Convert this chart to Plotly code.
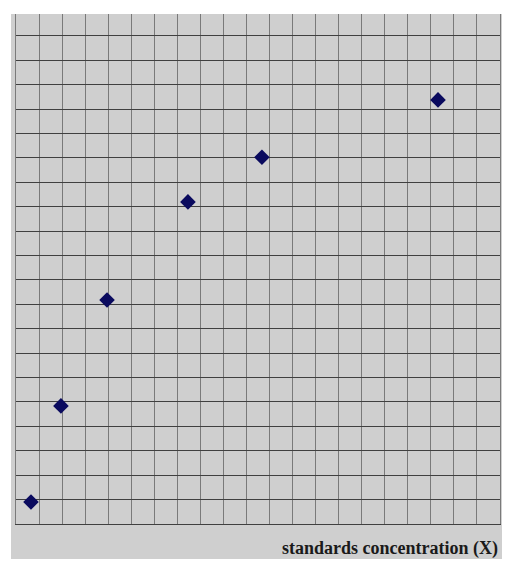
import plotly.graph_objects as go

# standards (grid units: 21 columns x ~21 rows)
concentration = [0.65, 1.95, 3.95, 7.46, 10.67, 18.31]
response = [0.90, 4.84, 9.18, 13.2, 15.03, 17.38]
x_label = "standards concentration (X)"

fig = go.Figure()
fig.add_trace(go.Scatter(
    x=concentration, y=response, mode="markers",
    marker=dict(symbol="diamond", size=12, color="#0a0a5e"),
    showlegend=False,
))

# gray panel that spills a little past the grid, holds the axis label
fig.add_shape(type="rect", xref="paper", yref="paper",
              x0=-0.0103, x1=1.0041, y0=-0.0686, y1=1,
              fillcolor="#cfcfcf", line=dict(width=0), layer="below")

fig.add_annotation(text="<b>" + x_label + "</b>", xref="paper", yref="paper",
                   x=1.0, y=-0.049, xanchor="right", yanchor="middle",
                   showarrow=False,
                   font=dict(family="Liberation Serif", size=18, color="#1a1a1a"))

# grid lines at the range ends are skipped by plotly, so axis lines stand in
# for the bottom edge (x axis) and the left/right edges (y axis, mirrored)
fig.update_xaxes(range=[0, 21], dtick=1, tick0=0, showticklabels=False,
                 showgrid=True, gridcolor="#7a7a7a", gridwidth=1,
                 zeroline=False, showline=True, linecolor="#404040",
                 linewidth=1, mirror=False, ticks="")
fig.update_yaxes(range=[0, 20.9], dtick=1, tick0=0, showticklabels=False,
                 showgrid=True, gridcolor="#404040", gridwidth=1,
                 zeroline=False, showline=True, linecolor="#7a7a7a",
                 linewidth=1, mirror=True, ticks="")

# page body adds 8px margin, so the figure is shifted to compensate
fig.update_layout(
    width=507, height=564,
    margin=dict(l=8, r=15, t=6, b=48),
    plot_bgcolor="#cfcfcf",
    paper_bgcolor="white",
)
fig.write_html("out.html")
